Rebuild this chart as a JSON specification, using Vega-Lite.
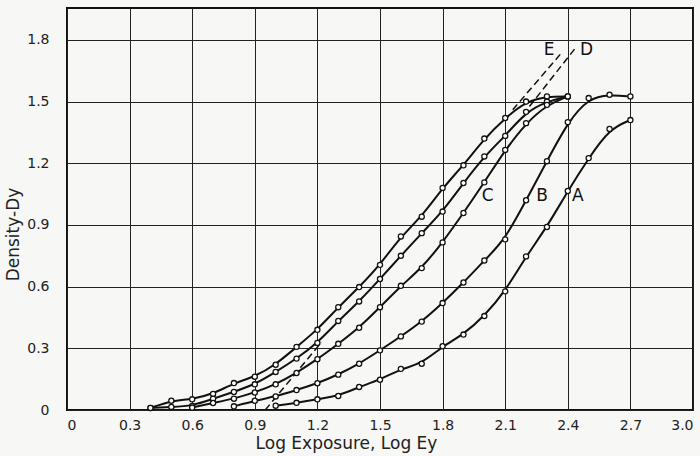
{
  "$schema": "https://vega.github.io/schema/vega-lite/v6.json",
  "width": 626,
  "height": 402,
  "autosize": "none",
  "padding": {"left": 67, "top": 8, "right": 7, "bottom": 46},
  "background": "#f7f7f5",
  "config": {
    "view": {"stroke": "#111", "strokeWidth": 2},
    "font": "DejaVu Sans"
  },
  "datasets": {
    "curves": [
      {"curve": "E", "x": 0.4, "y": 0.01}, {"curve": "E", "x": 0.5, "y": 0.045}, {"curve": "E", "x": 0.6, "y": 0.052}, {"curve": "E", "x": 0.7, "y": 0.078}, {"curve": "E", "x": 0.8, "y": 0.131}, {"curve": "E", "x": 0.9, "y": 0.162}, {"curve": "E", "x": 1.0, "y": 0.22}, {"curve": "E", "x": 1.1, "y": 0.307}, {"curve": "E", "x": 1.2, "y": 0.39}, {"curve": "E", "x": 1.3, "y": 0.5}, {"curve": "E", "x": 1.4, "y": 0.598}, {"curve": "E", "x": 1.5, "y": 0.706}, {"curve": "E", "x": 1.6, "y": 0.844}, {"curve": "E", "x": 1.7, "y": 0.94}, {"curve": "E", "x": 1.8, "y": 1.08}, {"curve": "E", "x": 1.9, "y": 1.19}, {"curve": "E", "x": 2.0, "y": 1.32}, {"curve": "E", "x": 2.1, "y": 1.42}, {"curve": "E", "x": 2.2, "y": 1.5}, {"curve": "E", "x": 2.3, "y": 1.525}, {"curve": "E", "x": 2.4, "y": 1.525},
      {"curve": "D", "x": 0.4, "y": 0.01}, {"curve": "D", "x": 0.5, "y": 0.015}, {"curve": "D", "x": 0.6, "y": 0.02}, {"curve": "D", "x": 0.7, "y": 0.055}, {"curve": "D", "x": 0.8, "y": 0.088}, {"curve": "D", "x": 0.9, "y": 0.125}, {"curve": "D", "x": 1.0, "y": 0.185}, {"curve": "D", "x": 1.1, "y": 0.25}, {"curve": "D", "x": 1.2, "y": 0.326}, {"curve": "D", "x": 1.3, "y": 0.433}, {"curve": "D", "x": 1.4, "y": 0.528}, {"curve": "D", "x": 1.5, "y": 0.637}, {"curve": "D", "x": 1.6, "y": 0.75}, {"curve": "D", "x": 1.7, "y": 0.86}, {"curve": "D", "x": 1.8, "y": 0.965}, {"curve": "D", "x": 1.9, "y": 1.104}, {"curve": "D", "x": 2.0, "y": 1.233}, {"curve": "D", "x": 2.1, "y": 1.333}, {"curve": "D", "x": 2.2, "y": 1.45}, {"curve": "D", "x": 2.3, "y": 1.5}, {"curve": "D", "x": 2.4, "y": 1.525},
      {"curve": "C", "x": 0.6, "y": 0.012}, {"curve": "C", "x": 0.7, "y": 0.034}, {"curve": "C", "x": 0.8, "y": 0.055}, {"curve": "C", "x": 0.9, "y": 0.085}, {"curve": "C", "x": 1.0, "y": 0.125}, {"curve": "C", "x": 1.1, "y": 0.18}, {"curve": "C", "x": 1.2, "y": 0.247}, {"curve": "C", "x": 1.3, "y": 0.322}, {"curve": "C", "x": 1.4, "y": 0.4}, {"curve": "C", "x": 1.5, "y": 0.5}, {"curve": "C", "x": 1.6, "y": 0.604}, {"curve": "C", "x": 1.7, "y": 0.69}, {"curve": "C", "x": 1.8, "y": 0.815}, {"curve": "C", "x": 1.9, "y": 0.958}, {"curve": "C", "x": 2.0, "y": 1.107}, {"curve": "C", "x": 2.1, "y": 1.265}, {"curve": "C", "x": 2.2, "y": 1.395}, {"curve": "C", "x": 2.3, "y": 1.484}, {"curve": "C", "x": 2.4, "y": 1.525},
      {"curve": "B", "x": 0.8, "y": 0.018}, {"curve": "B", "x": 0.9, "y": 0.045}, {"curve": "B", "x": 1.0, "y": 0.066}, {"curve": "B", "x": 1.1, "y": 0.097}, {"curve": "B", "x": 1.2, "y": 0.13}, {"curve": "B", "x": 1.3, "y": 0.172}, {"curve": "B", "x": 1.4, "y": 0.225}, {"curve": "B", "x": 1.5, "y": 0.29}, {"curve": "B", "x": 1.6, "y": 0.358}, {"curve": "B", "x": 1.7, "y": 0.43}, {"curve": "B", "x": 1.8, "y": 0.52}, {"curve": "B", "x": 1.9, "y": 0.62}, {"curve": "B", "x": 2.0, "y": 0.727}, {"curve": "B", "x": 2.1, "y": 0.83}, {"curve": "B", "x": 2.2, "y": 1.02}, {"curve": "B", "x": 2.3, "y": 1.21}, {"curve": "B", "x": 2.4, "y": 1.4}, {"curve": "B", "x": 2.5, "y": 1.517}, {"curve": "B", "x": 2.6, "y": 1.533}, {"curve": "B", "x": 2.7, "y": 1.525},
      {"curve": "A", "x": 1.0, "y": 0.021}, {"curve": "A", "x": 1.1, "y": 0.035}, {"curve": "A", "x": 1.2, "y": 0.052}, {"curve": "A", "x": 1.3, "y": 0.068}, {"curve": "A", "x": 1.4, "y": 0.112}, {"curve": "A", "x": 1.5, "y": 0.147}, {"curve": "A", "x": 1.6, "y": 0.2}, {"curve": "A", "x": 1.7, "y": 0.225}, {"curve": "A", "x": 1.8, "y": 0.31}, {"curve": "A", "x": 1.9, "y": 0.367}, {"curve": "A", "x": 2.0, "y": 0.457}, {"curve": "A", "x": 2.1, "y": 0.577}, {"curve": "A", "x": 2.2, "y": 0.747}, {"curve": "A", "x": 2.3, "y": 0.89}, {"curve": "A", "x": 2.4, "y": 1.065}, {"curve": "A", "x": 2.5, "y": 1.225}, {"curve": "A", "x": 2.6, "y": 1.367}, {"curve": "A", "x": 2.7, "y": 1.41}
    ],
    "dashed": [
      {"seg": "E", "x": 2.136, "y": 1.46}, {"seg": "E", "x": 2.376, "y": 1.744},
      {"seg": "D", "x": 2.216, "y": 1.476}, {"seg": "D", "x": 2.44, "y": 1.765},
      {"seg": "low", "x": 0.95, "y": 0.0}, {"seg": "low", "x": 1.22, "y": 0.33}
    ],
    "labels": [
      {"label": "E", "x": 2.31, "y": 1.75},
      {"label": "D", "x": 2.49, "y": 1.75},
      {"label": "C", "x": 2.016, "y": 1.04},
      {"label": "B", "x": 2.277, "y": 1.04},
      {"label": "A", "x": 2.448, "y": 1.04}
    ]
  },
  "encoding": {
    "x": {
      "field": "x", "type": "quantitative",
      "scale": {"domain": [0, 3], "nice": false, "zero": false},
      "axis": {
        "title": "Log Exposure, Log Ey",
        "values": [0, 0.3, 0.6, 0.9, 1.2, 1.5, 1.8, 2.1, 2.4, 2.7, 3.0],
        "labelExpr": "datum.value === 0 ? '0' : format(datum.value, '.1f')",
        "grid": true, "gridColor": "#222", "gridWidth": 1, "gridOpacity": 1,
        "domain": false, "ticks": false, "labelPadding": 8,
        "labelFontSize": 14, "labelColor": "#222", "labelFontWeight": "normal",
        "titleFontSize": 17, "titleFontWeight": "normal", "titleColor": "#222", "titlePadding": 3,
        "titleX": 279
      }
    },
    "y": {
      "field": "y", "type": "quantitative",
      "scale": {"domain": [0, 1.955], "nice": false, "zero": false},
      "axis": {
        "title": "Density-Dy",
        "values": [0, 0.3, 0.6, 0.9, 1.2, 1.5, 1.8],
        "labelExpr": "datum.value === 0 ? '0' : format(datum.value, '.1f')",
        "grid": true, "gridColor": "#222", "gridWidth": 1, "gridOpacity": 1,
        "domain": false, "ticks": false, "labelPadding": 18,
        "labelFontSize": 14, "labelColor": "#222",
        "titleFontSize": 17, "titleFontWeight": "normal", "titleColor": "#222", "titlePadding": 4,
        "titleY": 226
      }
    }
  },
  "layer": [
    {
      "data": {"name": "curves"},
      "mark": {"type": "line", "interpolate": "basis", "color": "#111", "strokeWidth": 2},
      "encoding": {"detail": {"field": "curve", "type": "nominal"}}
    },
    {
      "data": {"name": "dashed"},
      "mark": {"type": "line", "color": "#111", "strokeWidth": 1.5, "strokeDash": [7, 4]},
      "encoding": {"detail": {"field": "seg", "type": "nominal"}}
    },
    {
      "data": {"name": "curves"},
      "mark": {"type": "point", "shape": "circle", "filled": true, "fill": "white", "stroke": "#111", "strokeWidth": 1.3, "size": 26, "opacity": 1}
    },
    {
      "data": {"name": "labels"},
      "mark": {"type": "text", "fontSize": 17, "color": "#111", "align": "center", "baseline": "middle"},
      "encoding": {"text": {"field": "label", "type": "nominal"}}
    }
  ]
}
